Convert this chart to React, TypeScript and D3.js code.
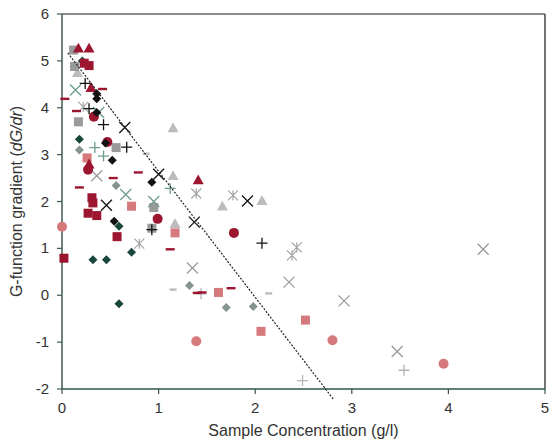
import React from "react";
import * as d3 from "d3";

const W = 549;
const H = 441;
const M = { left: 62, right: 3, top: 14, bottom: 52 };

const xTicks = [0, 1, 2, 3, 4, 5];
const yTicks = [-2, -1, 0, 1, 2, 3, 4, 5, 6];

// [x, y] pairs
const darkRedSquares = [[0.02, 0.79], [0.28, 4.9], [0.31, 2.08], [0.32, 1.97], [0.27, 1.75], [0.36, 1.7], [0.57, 1.25], [0.23, 4.95]];
const darkRedTriangles = [[0.17, 5.27], [0.28, 5.27], [0.3, 4.43], [1.41, 2.46], [0.28, 2.8]];
const darkRedCircles = [[0.33, 3.81], [0.27, 2.68], [0.99, 1.63], [1.78, 1.33], [0.47, 3.27]];
const darkRedDashes = [[0.03, 4.19], [0.15, 3.93], [0.42, 4.4], [0.79, 2.62], [0.53, 2.5], [0.18, 2.3], [1.12, 0.98], [1.4, 0.05], [1.75, 0.15], [1.45, 0.06]];
const pinkSquares = [[0.26, 2.93], [0.72, 1.9], [1.17, 1.33], [1.62, 0.06], [2.06, -0.77], [2.52, -0.53]];
const pinkCircles = [[0.0, 1.46], [1.39, -0.98], [2.8, -0.96], [3.95, -1.46]];
const greenDiamonds = [[0.18, 3.33], [0.32, 0.76], [0.46, 0.76], [0.72, 0.92], [0.59, -0.18], [0.59, 1.47], [0.21, 5.0]];
const blackDiamonds = [[0.36, 4.3], [0.36, 4.19], [0.36, 3.9], [0.45, 3.25], [0.52, 2.88], [0.93, 2.41], [0.54, 1.58]];
const blackPlus = [[0.24, 4.52], [0.28, 3.98], [0.43, 3.64], [0.67, 3.16], [0.93, 1.4], [2.07, 1.11]];
const blackX = [[0.65, 3.58], [0.46, 1.92], [1.37, 1.56], [1.92, 2.01], [1.0, 2.58]];
const tealX = [[0.14, 4.38], [0.66, 2.15], [0.95, 2.0], [0.38, 3.9]];
const tealPlus = [[0.34, 3.15], [0.43, 2.97], [1.12, 2.28]];
const graySquares = [[0.12, 5.23], [0.13, 4.88], [0.17, 3.7], [0.56, 3.15], [0.95, 1.87], [0.93, 1.43]];
const grayDiamonds = [[0.18, 3.1], [0.56, 2.34], [1.32, 0.21], [1.7, -0.26], [1.98, -0.24]];
const lightTriangles = [[1.15, 3.57], [1.15, 2.55], [1.66, 1.9], [2.07, 2.02], [1.17, 1.53], [0.16, 4.75]];
const grayAsterisks = [[1.39, 2.17], [1.77, 2.13], [2.38, 0.85], [2.43, 1.02], [0.8, 1.1], [0.22, 4.02]];
const grayX = [[0.36, 2.55], [4.36, 0.98], [2.92, -0.12], [3.47, -1.2], [1.35, 0.58], [2.35, 0.28]];
const lightPlus = [[3.54, -1.6], [2.49, -1.82], [1.44, 0.03]];
const grayDashes = [[1.15, 0.12], [2.14, 0.04], [0.87, 3.02]];

const trendX = [0.06, 2.81];
const trendY = [5.17, -2.22];

const COLORS = {
  darkRed: "#9c1630",
  pink: "#d6797d",
  green: "#17473a",
  black: "#111111",
  teal: "#6c9c90",
  gray: "#9a9a9a",
  grayDiamond: "#85958d",
  light: "#bcbcbc",
  asterisk: "#a5a5a5",
  lightPlus: "#b5b5b5",
};

type Kind = "square" | "triangle" | "circle" | "diamond" | "dash" | "plus" | "x" | "asterisk";

const seriesList: { data: number[][]; kind: Kind; color: string; size: number }[] = [
  { data: lightTriangles, kind: "triangle", color: COLORS.light, size: 11 },
  { data: grayAsterisks, kind: "asterisk", color: COLORS.asterisk, size: 10 },
  { data: grayX, kind: "x", color: COLORS.gray, size: 11 },
  { data: lightPlus, kind: "plus", color: COLORS.lightPlus, size: 11 },
  { data: grayDashes, kind: "dash", color: COLORS.light, size: 7 },
  { data: graySquares, kind: "square", color: COLORS.gray, size: 9 },
  { data: grayDiamonds, kind: "diamond", color: COLORS.grayDiamond, size: 9 },
  { data: pinkSquares, kind: "square", color: COLORS.pink, size: 9 },
  { data: pinkCircles, kind: "circle", color: COLORS.pink, size: 10 },
  { data: tealX, kind: "x", color: COLORS.teal, size: 11 },
  { data: tealPlus, kind: "plus", color: COLORS.teal, size: 11 },
  { data: greenDiamonds, kind: "diamond", color: COLORS.green, size: 9 },
  { data: darkRedSquares, kind: "square", color: COLORS.darkRed, size: 9 },
  { data: darkRedTriangles, kind: "triangle", color: COLORS.darkRed, size: 11 },
  { data: darkRedCircles, kind: "circle", color: COLORS.darkRed, size: 10 },
  { data: darkRedDashes, kind: "dash", color: COLORS.darkRed, size: 9 },
  { data: blackDiamonds, kind: "diamond", color: COLORS.black, size: 9 },
  { data: blackPlus, kind: "plus", color: COLORS.black, size: 11 },
  { data: blackX, kind: "x", color: COLORS.black, size: 11 },
];

function Marker({ kind, x, y, color, size }: { kind: Kind; x: number; y: number; color: string; size: number }) {
  const h = size / 2;
  switch (kind) {
    case "square":
      return <rect x={x - h} y={y - h} width={size} height={size} fill={color} />;
    case "circle":
      return <circle cx={x} cy={y} r={h} fill={color} />;
    case "triangle":
      return <path d={`M${x},${y - h}L${x + h},${y + h * 0.8}L${x - h},${y + h * 0.8}Z`} fill={color} />;
    case "diamond":
      return <path d={`M${x},${y - h}L${x + h},${y}L${x},${y + h}L${x - h},${y}Z`} fill={color} />;
    case "dash":
      return <rect x={x - h} y={y - 1.2} width={size} height={2.4} fill={color} />;
    case "plus":
      return <path d={`M${x - h},${y}H${x + h}M${x},${y - h}V${y + h}`} stroke={color} strokeWidth={1.3} fill="none" />;
    case "x":
      return <path d={`M${x - h},${y - h}L${x + h},${y + h}M${x - h},${y + h}L${x + h},${y - h}`} stroke={color} strokeWidth={1.3} fill="none" />;
    case "asterisk":
      return (
        <path
          d={`M${x - h},${y - h}L${x + h},${y + h}M${x - h},${y + h}L${x + h},${y - h}M${x},${y - h}V${y + h}`}
          stroke={color}
          strokeWidth={1.2}
          fill="none"
        />
      );
  }
}

export default function App() {
  const x = d3.scaleLinear().domain([0, 5]).range([M.left, W - M.right - 1]);
  const y = d3.scaleLinear().domain([-2, 6]).range([H - M.bottom, M.top]);
  const line = d3
    .line<number>()
    .x((d, i) => x(trendX[i]))
    .y((d, i) => y(trendY[i]));
  const font = "'Liberation Sans', Arial, sans-serif";
  const x0 = x(0);
  const x5 = x(5);
  const yTop = y(6);
  const yBot = y(-2);

  return (
    <svg width={W} height={H} style={{ position: "absolute", left: 0, top: 0, background: "#fff" }} fontFamily={font}>
      {/* frame */}
      <line x1={x0} x2={x5} y1={yTop} y2={yTop} stroke="#666" strokeWidth={1.5} />
      <line x1={x5} x2={x5} y1={yTop} y2={yBot} stroke="#444" strokeWidth={1.5} />
      {/* left axis */}
      <line x1={x0} x2={x0} y1={yTop} y2={yBot} stroke="#3f5a52" strokeWidth={1.5} />
      {yTicks.map((t) => (
        <g key={"y" + t}>
          <line x1={x0 - 5} x2={x0} y1={y(t)} y2={y(t)} stroke="#3f5a52" strokeWidth={1.2} />
          <text x={x0 - 13} y={y(t) + 5} textAnchor="end" fontSize={15} fill="#333">
            {t}
          </text>
        </g>
      ))}
      {/* bottom axis */}
      <line x1={x0} x2={x5} y1={yBot} y2={yBot} stroke="#2f5548" strokeWidth={1.5} />
      {xTicks.map((t) => (
        <g key={"x" + t}>
          <line x1={x(t)} x2={x(t)} y1={yBot} y2={yBot + 5} stroke="#2f5548" strokeWidth={1.2} />
          <text x={x(t)} y={yBot + 24} textAnchor="middle" fontSize={15} fill="#333">
            {t}
          </text>
        </g>
      ))}
      {/* markers */}
      {seriesList.map((s, si) =>
        s.data.map((d, i) => (
          <Marker key={si + "-" + i} kind={s.kind} x={x(d[0])} y={y(d[1])} color={s.color} size={s.size} />
        ))
      )}
      {/* trend line */}
      <path d={line([0, 1]) || ""} stroke="#222" strokeWidth={1.2} strokeDasharray="2,1.5" fill="none" />
      {/* axis titles */}
      <text x={(x0 + x5) / 2} y={436} textAnchor="middle" fontSize={16} fill="#333">
        Sample Concentration (g/l)
      </text>
      <text
        transform={`translate(22,${(yTop + yBot) / 2}) rotate(-90)`}
        textAnchor="middle"
        fontSize={16}
        fill="#333"
      >
        G-function gradient (<tspan fontStyle="italic">dG/dr</tspan>)
      </text>
    </svg>
  );
}
